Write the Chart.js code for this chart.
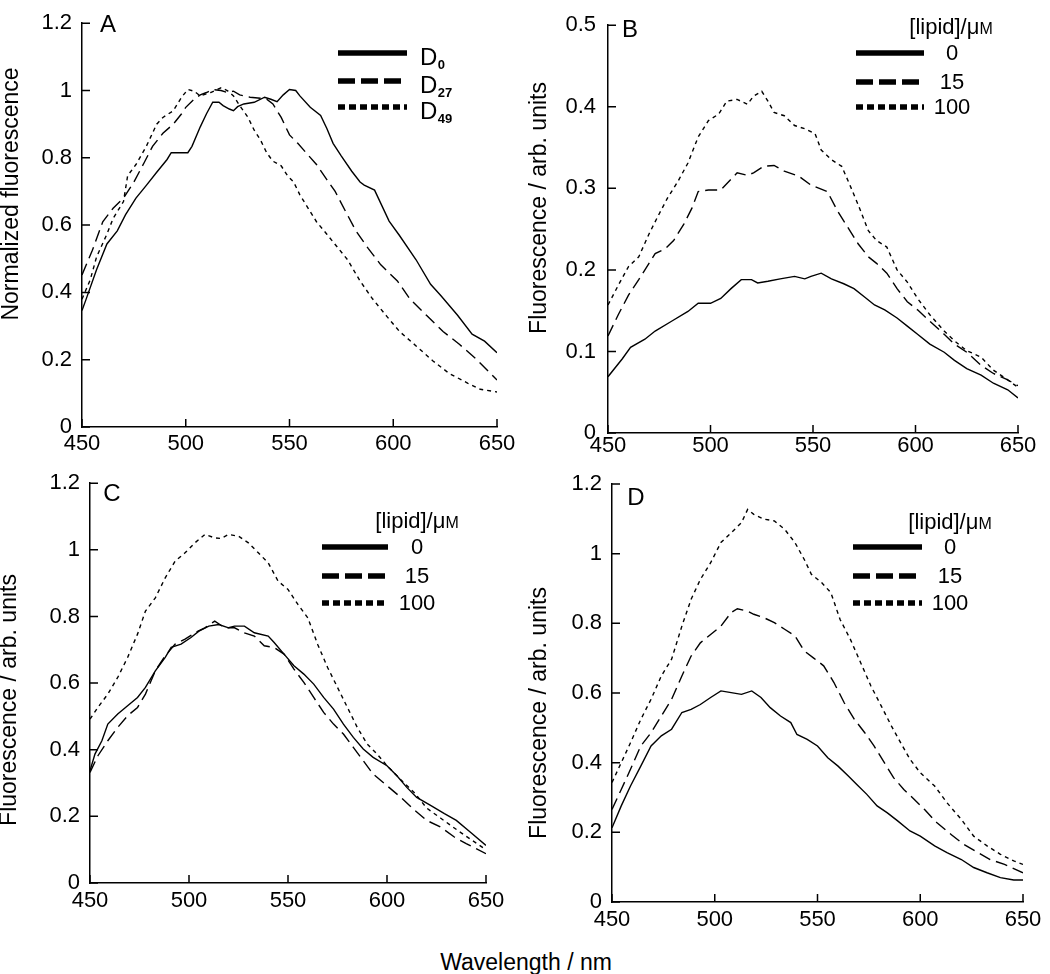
<!DOCTYPE html>
<html>
<head>
<meta charset="utf-8">
<script src="https://cdn.jsdelivr.net/npm/chart.js@4.4.1/dist/chart.umd.min.js"></script>
<style>
html,body{margin:0;padding:0;background:#fff;}
body{width:1050px;height:974px;position:relative;overflow:hidden;}
canvas{position:absolute;}
#xtitle{position:absolute;left:526px;top:962px;transform:translate(-50%,-50%);font:23px "Liberation Sans",Arial,sans-serif;color:#000;white-space:nowrap;}
</style>
</head>
<body>
<canvas id="cA" width="520" height="475" style="left:0;top:0"></canvas>
<canvas id="cB" width="530" height="475" style="left:520px;top:0"></canvas>
<canvas id="cC" width="520" height="480" style="left:0;top:460px"></canvas>
<canvas id="cD" width="530" height="480" style="left:520px;top:460px"></canvas>
<div id="xtitle">Wavelength / nm</div>
<script>
// ---------- tick labels ----------
const xTicks = [450, 500, 550, 600, 650];
const yTicksA = [0, 0.2, 0.4, 0.6, 0.8, 1, 1.2];
const yTicksB = [0, 0.1, 0.2, 0.3, 0.4, 0.5];
const yTicksCD = [0, 0.2, 0.4, 0.6, 0.8, 1, 1.2];

// ---------- panel A : normalized fluorescence ----------
const A_labels = ['D0', 'D27', 'D49'];
const A_x_D0 = [450,452,457,462,467,471,476,481,486,491,493,497,501,503,507,510,513,516,518,521,523,525,528,533,538,541,544,547,550,553,555,560,565,568,571,575,580,584,586,591,598,603,611,618,623,631,638,644,650];
const A_y_D0 = [0.346,0.38,0.467,0.544,0.583,0.631,0.68,0.718,0.757,0.795,0.815,0.815,0.815,0.834,0.892,0.931,0.965,0.965,0.955,0.945,0.94,0.952,0.96,0.965,0.98,0.974,0.967,0.987,1.003,1.0,0.984,0.95,0.926,0.887,0.843,0.805,0.76,0.728,0.719,0.704,0.612,0.569,0.497,0.424,0.39,0.332,0.276,0.255,0.221];
const A_x_D27 = [450,455,460,465,470,475,480,484,489,494,498,500,504,507,510,513,517,520,523,526,531,536,539,542,546,550,554,558,563,568,572,577,582,588,594,602,608,616,624,632,640,650];
const A_y_D27 = [0.452,0.525,0.61,0.65,0.68,0.728,0.786,0.834,0.873,0.90,0.931,0.95,0.974,0.987,0.994,1.003,1.0,0.994,0.998,0.987,0.98,0.977,0.974,0.96,0.92,0.868,0.843,0.815,0.78,0.735,0.70,0.641,0.583,0.53,0.482,0.434,0.381,0.332,0.284,0.245,0.202,0.14];
const A_x_D49 = [450,454,457,462,465,470,472,476,481,486,489,494,498,501,504,507,512,517,520,523,526,530,533,536,539,542,546,549,552,555,559,563,568,571,578,584,590,597,603,611,619,627,636,642,650];
const A_y_D49 = [0.38,0.438,0.505,0.573,0.62,0.67,0.747,0.78,0.834,0.90,0.92,0.94,0.98,1.003,0.998,0.984,0.994,1.008,1.0,0.984,0.955,0.92,0.882,0.853,0.815,0.79,0.776,0.747,0.728,0.69,0.65,0.61,0.573,0.55,0.497,0.434,0.381,0.328,0.284,0.241,0.197,0.159,0.13,0.112,0.104];

// ---------- panels B-D : [lipid] / µM ----------
const lipidLabels = ['0', '15', '100'];

const B_x_0 = [450,457,461,468,473,481,489,494,500,505,510,515,520,523,528,534,541,546,549,554,559,565,570,575,580,585,591,596,601,607,614,619,625,632,638,645,650];
const B_y_0 = [0.069,0.091,0.105,0.115,0.125,0.137,0.149,0.159,0.159,0.165,0.177,0.188,0.188,0.184,0.186,0.189,0.192,0.189,0.192,0.196,0.189,0.183,0.177,0.167,0.157,0.151,0.141,0.131,0.121,0.109,0.099,0.089,0.079,0.071,0.061,0.053,0.043];
const B_x_15 = [450,455,460,465,470,473,478,482,487,491,494,499,505,510,513,518,521,526,531,536,543,549,554,557,562,567,572,577,581,586,591,596,601,607,614,619,625,632,638,645,650];
const B_y_15 = [0.119,0.145,0.169,0.188,0.208,0.22,0.226,0.236,0.256,0.276,0.296,0.298,0.298,0.311,0.319,0.316,0.319,0.327,0.328,0.321,0.315,0.304,0.299,0.296,0.272,0.252,0.232,0.216,0.208,0.196,0.177,0.161,0.151,0.137,0.121,0.109,0.099,0.083,0.073,0.065,0.058];
const B_x_100 = [450,455,460,465,470,474,479,484,489,494,499,504,508,513,518,521,525,528,531,536,541,546,551,554,559,564,568,572,577,581,586,591,596,601,607,614,619,625,632,638,645,650];
const B_y_100 = [0.157,0.181,0.204,0.216,0.244,0.264,0.288,0.308,0.331,0.363,0.383,0.391,0.407,0.409,0.403,0.413,0.419,0.407,0.393,0.389,0.377,0.373,0.367,0.347,0.335,0.327,0.304,0.28,0.248,0.236,0.228,0.2,0.185,0.165,0.145,0.125,0.113,0.101,0.093,0.077,0.065,0.056];

const C_x_0 = [450,452.5,456,459,464,469,474,478,483,488,491,496,501,505,510,515,520,523,528,533,540,543,548,553,558,563,568,573,578,583,588,593,600,605,610,615,622,629,635,642,650];
const C_y_0 = [0.337,0.387,0.427,0.477,0.507,0.532,0.557,0.587,0.637,0.677,0.707,0.717,0.737,0.756,0.771,0.776,0.766,0.771,0.771,0.751,0.741,0.722,0.687,0.652,0.627,0.597,0.557,0.522,0.477,0.437,0.402,0.377,0.352,0.322,0.287,0.257,0.233,0.208,0.188,0.153,0.113];
const C_x_15 = [450,454,459,464,469,474,478,483,488,493,498,503,508,513,518,523,528,533,538,543,548,553,558,563,568,573,578,583,588,593,600,607,614,620,627,634,640,650];
const C_y_15 = [0.332,0.382,0.427,0.467,0.502,0.527,0.567,0.637,0.682,0.717,0.732,0.751,0.766,0.786,0.766,0.766,0.751,0.741,0.712,0.707,0.687,0.642,0.602,0.557,0.512,0.477,0.447,0.407,0.367,0.327,0.292,0.257,0.218,0.188,0.168,0.138,0.118,0.088];
const C_x_100 = [450,454,459,464,469,474,478,483,488,493,498,503,508,513,516,520,525,530,535,540,545,550,555,560,565,570,575,580,585,590,595,600,607,614,620,627,634,640,650];
const C_y_100 = [0.492,0.527,0.567,0.617,0.677,0.747,0.816,0.856,0.916,0.966,0.991,1.021,1.046,1.036,1.034,1.046,1.041,1.021,0.991,0.961,0.906,0.881,0.836,0.796,0.716,0.647,0.587,0.527,0.467,0.417,0.387,0.352,0.31,0.27,0.225,0.195,0.165,0.14,0.10];

const D_x_0 = [450,454.5,459,464,469,474,479,484,488.5,493,498,503,508,513,518,522.5,527,532,537,540,545,550,555,560,565,569,574,579,584,589,595,600,607,613,620,626,632.5,639,645.5,650];
const D_y_0 = [0.213,0.276,0.333,0.39,0.448,0.477,0.496,0.544,0.553,0.567,0.587,0.606,0.601,0.596,0.606,0.587,0.558,0.534,0.515,0.481,0.467,0.448,0.414,0.39,0.362,0.338,0.309,0.276,0.256,0.233,0.204,0.189,0.161,0.142,0.122,0.099,0.084,0.07,0.063,0.063];
const D_x_15 = [450,454.5,459,464,469,474,479,484,488.5,493,498,503,508,511,516,519,524,529,534,539,543.5,548,553,558,563,568,573,577.5,582,587,592,597,602,608,615,621,628,634,641,650];
const D_y_15 = [0.266,0.323,0.381,0.448,0.486,0.534,0.582,0.649,0.706,0.744,0.768,0.792,0.831,0.842,0.835,0.826,0.816,0.802,0.783,0.764,0.721,0.701,0.678,0.63,0.572,0.524,0.486,0.448,0.405,0.357,0.323,0.295,0.266,0.228,0.194,0.166,0.142,0.122,0.108,0.084];
const D_x_100 = [450,454.5,459,464,469,474,479,484,488.5,493,498,503,508,513,516,519,524,529,534,539,543.5,547,552,556.5,561,566,571,576,581,586,590.5,595,600,607,613,620,626,632.5,639,645.5,650];
const D_y_100 = [0.343,0.4,0.457,0.524,0.582,0.649,0.697,0.792,0.869,0.926,0.974,1.032,1.06,1.089,1.127,1.113,1.099,1.094,1.07,1.032,0.984,0.941,0.917,0.888,0.811,0.754,0.687,0.62,0.563,0.505,0.457,0.41,0.371,0.333,0.285,0.237,0.189,0.161,0.137,0.118,0.108];

// ---------- styles ----------
const FONT = '"Liberation Sans", Arial, Helvetica, sans-serif';
const CURVE_DASH = [[], [12, 6], [4, 4]];
const LEG_DASH = [[], [17, 6], [7, 4]];

const decor = {
  id: 'panelDecor',
  afterDraw(chart, args, o) {
    const ctx = chart.ctx;
    const ca = chart.chartArea;
    const xs = chart.scales.x, ys = chart.scales.y;
    ctx.save();
    // inward tick marks
    ctx.strokeStyle = '#000';
    ctx.lineWidth = 1.5;
    ctx.setLineDash([]);
    ctx.beginPath();
    xs.ticks.forEach(t => {
      const p = xs.getPixelForValue(t.value);
      ctx.moveTo(p, ca.bottom); ctx.lineTo(p, ca.bottom - 8);
    });
    ys.ticks.forEach(t => {
      const p = ys.getPixelForValue(t.value);
      ctx.moveTo(ca.left, p); ctx.lineTo(ca.left + 8, p);
    });
    ctx.stroke();
    ctx.fillStyle = '#000';
    // panel letter
    ctx.font = '24px ' + FONT;
    ctx.textAlign = 'center';
    ctx.textBaseline = 'middle';
    ctx.fillText(o.letter, o.letterPos[0], o.letterPos[1]);
    // y title
    ctx.save();
    ctx.translate(o.titlePos[0], o.titlePos[1]);
    ctx.rotate(-Math.PI / 2);
    ctx.font = '23px ' + FONT;
    ctx.fillText(o.yTitle, 0, 0);
    ctx.restore();
    // legend
    const L = o.legend;
    if (L.header) {
      ctx.font = '22px ' + FONT;
      ctx.textAlign = 'left';
      ctx.textBaseline = 'middle';
      const w = ctx.measureText(L.header).width;
      ctx.font = '16px ' + FONT;
      const w2 = ctx.measureText('M').width;
      const x0 = L.headerPos[0] - (w + w2) / 2;
      ctx.font = '22px ' + FONT;
      ctx.fillText(L.header, x0, L.headerPos[1]);
      ctx.font = '16px ' + FONT;
      ctx.fillText('M', x0 + w, L.headerPos[1] + 2);
    }
    chart.data.datasets.forEach((ds, i) => {
      const y = L.rows[i];
      ctx.lineWidth = 5.5;
      ctx.lineCap = 'butt';
      ctx.setLineDash(LEG_DASH[i]);
      ctx.beginPath();
      ctx.moveTo(L.line[0], y); ctx.lineTo(L.line[1], y);
      ctx.stroke();
      ctx.setLineDash([]);
      if (L.sub) {
        ctx.textAlign = 'left';
        ctx.textBaseline = 'alphabetic';
        ctx.font = '24px ' + FONT;
        const main = ds.label.charAt(0), sub = ds.label.slice(1);
        ctx.fillText(main, L.textX, y + 12);
        const mw = ctx.measureText(main).width;
        ctx.font = 'bold 13px ' + FONT;
        ctx.fillText(sub, L.textX + mw + 0.5, y + 16);
      } else {
        ctx.textAlign = 'center';
        ctx.textBaseline = 'middle';
        ctx.font = '22px ' + FONT;
        ctx.fillText(ds.label, L.textX, y + 1);
      }
    });
    ctx.restore();
  }
};

function makePanel(id, g) {
  const datasets = g.series.map((s, i) => ({
    label: s.label,
    data: s.x.map((x, k) => ({x: x, y: s.y[k]})),
    borderColor: '#000',
    borderWidth: 1.4,
    borderDash: CURVE_DASH[i],
    pointRadius: 0,
    tension: 0,
    fill: false
  }));
  const tickFont = {family: FONT, size: 22};
  return new Chart(document.getElementById(id), {
    type: 'line',
    data: {datasets},
    options: {
      responsive: false,
      animation: false,
      devicePixelRatio: 1,
      layout: {padding: {top: g.T, right: g.W - g.R, left: 0, bottom: 0}},
      plugins: {
        legend: {display: false},
        tooltip: {enabled: false},
        panelDecor: g.decor
      },
      scales: {
        x: {
          type: 'linear', min: xTicks[0], max: xTicks[xTicks.length - 1],
          afterBuildTicks: s => { s.ticks = xTicks.map(v => ({value: v})); },
          ticks: {padding: g.xPad, maxRotation: 0, autoSkip: false, color: '#000', font: tickFont,
            callback: v => String(v)},
          grid: {display: false, drawTicks: false},
          border: {display: true, color: '#000', width: 1.5},
          afterFit: s => { s.height = g.H - g.B; }
        },
        y: {
          type: 'linear', min: g.yTicks[0], max: g.yTicks[g.yTicks.length - 1],
          afterBuildTicks: s => { s.ticks = g.yTicks.map(v => ({value: v})); },
          ticks: {padding: g.yPad, color: '#000', font: tickFont, callback: v => String(v)},
          grid: {display: false, drawTicks: false},
          border: {display: true, color: '#000', width: 1.5},
          afterFit: s => { s.width = g.L; }
        }
      }
    },
    plugins: [decor]
  });
}

makePanel('cA', {
  W: 520, H: 475, L: 82, T: 14, R: 497, B: 427, xPad: 4, yPad: 10, yTicks: yTicksA,
  series: [
    {label: A_labels[0], x: A_x_D0, y: A_y_D0},
    {label: A_labels[1], x: A_x_D27, y: A_y_D27},
    {label: A_labels[2], x: A_x_D49, y: A_y_D49}
  ],
  decor: {letter: 'A', letterPos: [108, 25], yTitle: 'Normalized fluorescence', titlePos: [12, 194],
    legend: {line: [338, 407], rows: [53, 81, 107], textX: 420, sub: true}}
});

makePanel('cB', {
  W: 530, H: 475, L: 88, T: 18, R: 498, B: 433, xPad: 0, yPad: 12, yTicks: yTicksB,
  series: [
    {label: lipidLabels[0], x: B_x_0, y: B_y_0},
    {label: lipidLabels[1], x: B_x_15, y: B_y_15},
    {label: lipidLabels[2], x: B_x_100, y: B_y_100}
  ],
  decor: {letter: 'B', letterPos: [110, 30], yTitle: 'Fluorescence / arb. units', titlePos: [20, 208],
    legend: {header: '[lipid]/\u03bc', headerPos: [431, 28], line: [336, 404], rows: [53, 82, 107], textX: 432}}
});

makePanel('cC', {
  W: 520, H: 480, L: 90, T: 22, R: 486, B: 423, xPad: 5, yPad: 10, yTicks: yTicksCD,
  series: [
    {label: lipidLabels[0], x: C_x_0, y: C_y_0},
    {label: lipidLabels[1], x: C_x_15, y: C_y_15},
    {label: lipidLabels[2], x: C_x_100, y: C_y_100}
  ],
  decor: {letter: 'C', letterPos: [112, 34], yTitle: 'Fluorescence / arb. units', titlePos: [10, 240],
    legend: {header: '[lipid]/\u03bc', headerPos: [417, 62], line: [322, 388], rows: [87, 116, 143], textX: 417}}
});

makePanel('cD', {
  W: 530, H: 480, L: 92, T: 24, R: 503, B: 442, xPad: 5, yPad: 10, yTicks: yTicksCD,
  series: [
    {label: lipidLabels[0], x: D_x_0, y: D_y_0},
    {label: lipidLabels[1], x: D_x_15, y: D_y_15},
    {label: lipidLabels[2], x: D_x_100, y: D_y_100}
  ],
  decor: {letter: 'D', letterPos: [116, 38], yTitle: 'Fluorescence / arb. units', titlePos: [20, 253],
    legend: {header: '[lipid]/\u03bc', headerPos: [430, 63], line: [333, 402], rows: [87, 116, 143], textX: 430}}
});
</script>
</body>
</html>
